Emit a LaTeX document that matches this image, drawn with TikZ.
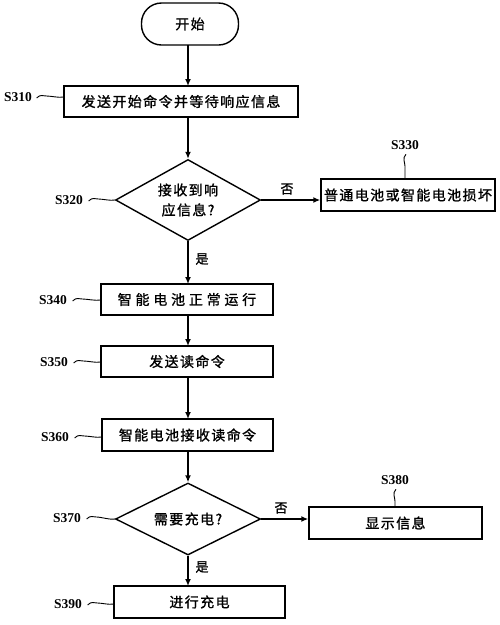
\documentclass[tikz,border=0pt]{standalone}
\usepackage{fontspec}
\setmainfont{Liberation Serif}
\newfontfamily\cjk{Noto Sans CJK SC}[FakeBold=1.2,LetterSpace=10]
\usetikzlibrary{shapes.geometric,arrows.meta}
\begin{document}
\begin{tikzpicture}[x=1pt,y=-1pt,
  every path/.style={line width=1.4pt},
  box/.style={draw,rectangle,inner sep=0pt,font=\cjk\fontsize{14}{16}\selectfont},
  dia/.style={draw,diamond,aspect=1.8,inner sep=0pt,minimum width=145pt,minimum height=81pt,align=center,font=\cjk\fontsize{14}{20}\selectfont},
  steplbl/.style={font=\bfseries\fontsize{13.5}{14}\selectfont,inner sep=0pt},
  yn/.style={font=\cjk\fontsize{13}{14}\selectfont,inner sep=0pt},
  arr/.style={-{Latex[length=7pt,width=6pt]}},
  wave/.style={line width=0.9pt}
]
\useasboundingbox (0,0) rectangle (500,625);
% nodes
\node[box,rounded corners=20pt,minimum width=97pt,minimum height=42pt] (start) at (190,24) {开始};
\node[box,minimum width=234pt,minimum height=31pt] (s310) at (181,101.5) {发送开始命令并等待响应信息};
\node[dia] (s320) at (188,200) {接收到响\\应信息?};
\node[box,minimum width=174pt,minimum height=32pt] (s330) at (408,195) {普通电池或智能电池损坏};
\node[box,minimum width=172pt,minimum height=31pt] (s340) at (187,299.5) {\addfontfeature{LetterSpace=27}智能电池正常运行};
\node[box,minimum width=172pt,minimum height=31pt] (s350) at (187,361.5) {发送读命令};
\node[box,minimum width=171pt,minimum height=32pt] (s360) at (187.5,435) {智能电池接收读命令};
\node[dia,minimum height=72pt,aspect=2] (s370) at (188,519) {需要充电?};
\node[box,minimum width=173pt,minimum height=32pt] (s380) at (395.5,523) {显示信息};
\node[box,minimum width=171pt,minimum height=32pt] (s390) at (199.5,602) {进行充电};
% step labels
\node[steplbl] (l310) at (18,97) {S310};
\node[steplbl] (l320) at (69,200) {S320};
\node[steplbl] (l330) at (405,145) {S330};
\node[steplbl] (l340) at (53,300) {S340};
\node[steplbl] (l350) at (54,362) {S350};
\node[steplbl] (l360) at (55,437) {S360};
\node[steplbl] (l370) at (67,518) {S370};
\node[steplbl] (l380) at (395,480) {S380};
\node[steplbl] (l390) at (68,604) {S390};
% connectors
\draw[arr] (188,45) -- (188,86);
\draw[arr] (188,117) -- (s320.north);
\draw[arr] (s320.south) -- (188,284);
\draw[arr] (s320.east) -- (s320.east -| s330.west);
\draw[arr] (188,315) -- (188,346);
\draw[arr] (188,377) -- (188,419);
\draw[arr] (188,451) -- (s370.north);
\draw[arr] (s370.east) -- (s370.east -| s380.west);
\draw[arr] (s370.south) -- (188,586);
% yes/no
\node[yn] (n1) at (287,189) {否};
\node[yn] (y1) at (202,259) {是};
\node[yn] (n2) at (281,508) {否};
\node[yn] (y2) at (202,567) {是};
% waves
\draw[wave] (l310.east) ++(4,1) .. controls +(4,-4) and +(-4,0) .. ++(10,-2) .. controls +(4,0) and +(-4,1) .. (s310.west |- 0,97);
\draw[wave] (l320.east) ++(5,1) .. controls +(4,-4) and +(-4,0) .. ++(10,-2) .. controls +(4,0) and +(-4,1) .. (s320.west);
\draw[wave] (l340.east) ++(5,1) .. controls +(4,-4) and +(-4,0) .. ++(10,-2) .. controls +(4,0) and +(-4,1) .. (s340.west |- 0,300);
\draw[wave] (l350.east) ++(5,1) .. controls +(4,-4) and +(-4,0) .. ++(10,-2) .. controls +(4,0) and +(-4,1) .. (s350.west |- 0,362);
\draw[wave] (l360.east) ++(5,1) .. controls +(4,-4) and +(-4,0) .. ++(10,-2) .. controls +(4,0) and +(-4,1) .. (s360.west |- 0,437);
\draw[wave] (l370.east) ++(5,1) .. controls +(4,-4) and +(-4,0) .. ++(10,-2) .. controls +(4,0) and +(-4,1) .. (s370.west);
\draw[wave] (l390.east) ++(5,1) .. controls +(4,-4) and +(-4,0) .. ++(10,-2) .. controls +(4,0) and +(-4,1) .. (s390.west |- 0,604);
\draw[wave] (l330.south) ++(1,4) .. controls +(-4,4) and +(0,-4) .. ++(-1,12) .. controls +(0,4) and +(0,-4) .. (s330.north -| 405,0);
\draw[wave] (l380.south) ++(1,4) .. controls +(-4,4) and +(0,-4) .. ++(-1,12) .. controls +(0,4) and +(0,-4) .. (s380.north -| 395,0);
\end{tikzpicture}
\end{document}
